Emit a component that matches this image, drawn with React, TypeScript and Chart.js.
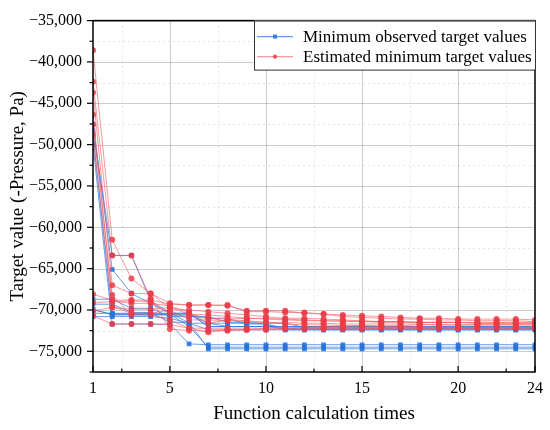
import React, { useEffect, useRef } from "react";
import { Chart, registerables } from "chart.js";
Chart.register(...registerables);

const steps = [1, 2, 3, 4, 5, 6, 7, 8, 9, 10, 11, 12, 13, 14, 15, 16, 17, 18, 19, 20, 21, 22, 23, 24];

// Minimum observed target values (blue)
const blue1 = [-47500, -65100, -68000, -69200, -70400, -70400, -72000, -72000, -72000, -72000, -72000, -72000, -72000, -72000, -72000, -72000, -72000, -72000, -72000, -72000, -72000, -72000, -72000, -72000];
const blue2 = [-48800, -70500, -70500, -70500, -70500, -72000, -74500, -74500, -74500, -74500, -74500, -74500, -74500, -74500, -74500, -74500, -74500, -74500, -74500, -74500, -74500, -74500, -74500, -74500];
const blue3 = [-50000, -71700, -71700, -71700, -71700, -74100, -74200, -74200, -74200, -74200, -74200, -74200, -74200, -74200, -74200, -74200, -74200, -74200, -74200, -74200, -74200, -74200, -74200, -74200];
const blue4 = [-68700, -68700, -69800, -69800, -70800, -70800, -70800, -71500, -71500, -71700, -72200, -72200, -72200, -72200, -72200, -72200, -72200, -72200, -72200, -72200, -72200, -72200, -72200, -72200];
const blue5 = [-69300, -69300, -70300, -70300, -71500, -71500, -74700, -74700, -74700, -74700, -74700, -74700, -74700, -74700, -74700, -74700, -74700, -74700, -74700, -74700, -74700, -74700, -74700, -74700];
const blue6 = [-70000, -70500, -70500, -70500, -70500, -70500, -71000, -71000, -71700, -71700, -72400, -72400, -72400, -72400, -72400, -72400, -72400, -72400, -72400, -72400, -72400, -72400, -72400, -72400];
const blue7 = [-70800, -70800, -70800, -70800, -71000, -71600, -71600, -72000, -72000, -72000, -72300, -72300, -72300, -72300, -72300, -72300, -72300, -72300, -72300, -72300, -72300, -72300, -72300, -72300];
const blue8 = [-69900, -70600, -70600, -70600, -70600, -70600, -71600, -71600, -71600, -71600, -71600, -72100, -72100, -72100, -72100, -72100, -72100, -72100, -72100, -72100, -72100, -72100, -72100, -72100];
const blue9 = [-48300, -63400, -63400, -68900, -70300, -71600, -72400, -72400, -72400, -72400, -72400, -72400, -72400, -72400, -72400, -72400, -72400, -72400, -72400, -72400, -72400, -72400, -72400, -72400];
const blue10 = [-70400, -70400, -70400, -70400, -70400, -70400, -72000, -72000, -72000, -72000, -72000, -72000, -72000, -72000, -72000, -72000, -72000, -72000, -72000, -72000, -72000, -72000, -72000, -72000];

// Estimated minimum target values (red)
const red1 = [-38600, -61500, -66200, -68000, -69200, -69400, -69400, -69400, -70200, -70200, -70300, -70300, -70500, -70800, -70900, -71000, -71100, -71100, -71200, -71200, -71300, -71300, -71300, -71400];
const red2 = [-42400, -63400, -63400, -68600, -72300, -72500, -72500, -72500, -72400, -72400, -72300, -72300, -72300, -72300, -72300, -72200, -72200, -72200, -72200, -72200, -72200, -72200, -72200, -72200];
const red3 = [-43700, -67000, -68000, -68000, -69800, -70000, -70200, -70400, -70600, -70800, -71000, -71000, -71100, -71200, -71300, -71400, -71400, -71500, -71500, -71500, -71600, -71600, -71600, -71600];
const red4 = [-46400, -68900, -69200, -69200, -69500, -70300, -71600, -71200, -71300, -71500, -71700, -71800, -71800, -71900, -71900, -72000, -72000, -72000, -72100, -72100, -72100, -72100, -72100, -72100];
const red5 = [-47600, -68200, -70600, -70600, -71200, -72200, -72700, -72400, -72400, -72200, -72200, -72100, -72000, -72000, -71900, -71900, -71900, -71800, -71800, -71800, -71800, -71800, -71800, -71800];
const red6 = [-48900, -69600, -70400, -70400, -70000, -71200, -71200, -71300, -71400, -71500, -71500, -71600, -71600, -71700, -71700, -71700, -71700, -71700, -71800, -71800, -71800, -71800, -71800, -71800];
const red7 = [-68100, -68800, -68800, -68800, -69300, -69400, -69400, -69500, -70100, -70100, -70100, -70400, -70500, -70600, -70700, -70800, -70900, -71000, -71000, -71100, -71100, -71100, -71100, -71200];
const red8 = [-69100, -69000, -68900, -69000, -70500, -70800, -71000, -71100, -71000, -71100, -71200, -71300, -71300, -71400, -71400, -71500, -71500, -71500, -71500, -71500, -71600, -71600, -71600, -71600];
const red9 = [-70700, -71700, -71700, -71700, -71800, -72200, -72200, -72200, -72200, -72200, -72200, -72200, -72200, -72200, -72200, -72200, -72200, -72200, -72200, -72200, -72200, -72200, -72200, -72200];
const red10 = [-70100, -69700, -69900, -69900, -69700, -70500, -70600, -70800, -71000, -71000, -71100, -71200, -71300, -71300, -71400, -71400, -71400, -71500, -71500, -71500, -71500, -71500, -71500, -71500];

const blueSeries = [blue1, blue2, blue3, blue4, blue5, blue6, blue7, blue8, blue9, blue10];
const redSeries = [red1, red2, red3, red4, red5, red6, red7, red8, red9, red10];

const legendLabels = ["Minimum observed target values", "Estimated minimum target values"];
const xTitle = "Function calculation times";
const yTitle = "Target value (-Pressure, Pa)";

const xMajorTicks = [1, 5, 10, 15, 20, 24];
const xMinorTicks = [2.5, 7.5, 12.5, 17.5, 22.5];
const yMajorTicks = [-35000, -40000, -45000, -50000, -55000, -60000, -65000, -70000, -75000];
const yMinorTicks = [-37500, -42500, -47500, -52500, -57500, -62500, -67500, -72500, -77500];

const SERIF = '"Liberation Serif", "Times New Roman", serif';
const BLUE_LINE = "rgba(55,125,225,0.75)";
const BLUE_PT = "rgba(40,115,220,0.9)";
const RED_LINE = "rgba(240,85,95,0.6)";
const RED_PT = "rgba(235,60,72,0.85)";

const fmt = (v: number) => (v < 0 ? "\u2212" : "") + Math.abs(v).toLocaleString("en-US");

const decor = {
  id: "decor",
  beforeDatasetsDraw(chart: any) {
    const { ctx, chartArea, scales } = chart;
    const { left, right, top, bottom } = chartArea;
    const x = scales.x, y = scales.y;
    ctx.save();
    ctx.lineWidth = 1;
    const hl = (v: number) => {
      const p = Math.round(y.getPixelForValue(v)) + 0.5;
      ctx.beginPath(); ctx.moveTo(left, p); ctx.lineTo(right, p); ctx.stroke();
    };
    const vl = (v: number) => {
      const p = Math.round(x.getPixelForValue(v)) + 0.5;
      ctx.beginPath(); ctx.moveTo(p, top); ctx.lineTo(p, bottom); ctx.stroke();
    };
    ctx.strokeStyle = "rgba(0,0,0,0.1)";
    ctx.setLineDash([2, 3]);
    yMinorTicks.forEach(hl);
    xMinorTicks.forEach(vl);
    ctx.setLineDash([]);
    ctx.strokeStyle = "rgba(0,0,0,0.2)";
    yMajorTicks.forEach(hl);
    xMajorTicks.filter((v) => v !== 1 && v !== 24).forEach(vl);
    ctx.restore();
  },
  afterDraw(chart: any) {
    const { ctx, chartArea, scales } = chart;
    const { left, right, top, bottom } = chartArea;
    const x = scales.x, y = scales.y;
    ctx.save();
    ctx.strokeStyle = "#000";
    ctx.lineWidth = 1.5;
    ctx.strokeRect(left, top, right - left, bottom - top);
    ctx.lineWidth = 1.2;
    yMajorTicks.forEach((v) => {
      const p = y.getPixelForValue(v);
      ctx.beginPath(); ctx.moveTo(left - 6, p); ctx.lineTo(left, p); ctx.stroke();
    });
    yMinorTicks.forEach((v) => {
      const p = y.getPixelForValue(v);
      ctx.beginPath(); ctx.moveTo(left - 3.5, p); ctx.lineTo(left, p); ctx.stroke();
    });
    xMajorTicks.forEach((v) => {
      const p = x.getPixelForValue(v);
      ctx.beginPath(); ctx.moveTo(p, bottom); ctx.lineTo(p, bottom - 6); ctx.stroke();
    });
    xMinorTicks.forEach((v) => {
      const p = x.getPixelForValue(v);
      ctx.beginPath(); ctx.moveTo(p, bottom); ctx.lineTo(p, bottom - 3.5); ctx.stroke();
    });

    // legend
    const lx = 254, ly = top, lw = right - 254, lh = 49;
    ctx.fillStyle = "#fff";
    ctx.fillRect(lx, ly, lw, lh);
    ctx.strokeStyle = "#333";
    ctx.lineWidth = 1;
    ctx.strokeRect(lx + 0.5, ly + 0.5, lw, lh);
    const rows = [
      { y: ly + 16, line: BLUE_LINE, pt: BLUE_PT, shape: "rect", text: legendLabels[0] },
      { y: ly + 36, line: RED_LINE, pt: RED_PT, shape: "circle", text: legendLabels[1] },
    ];
    ctx.font = `17px ${SERIF}`;
    ctx.textBaseline = "middle";
    rows.forEach((r) => {
      ctx.strokeStyle = r.line;
      ctx.lineWidth = 1.2;
      ctx.beginPath(); ctx.moveTo(257, r.y); ctx.lineTo(293, r.y); ctx.stroke();
      ctx.fillStyle = r.pt;
      if (r.shape === "rect") ctx.fillRect(273, r.y - 2, 4, 4);
      else { ctx.beginPath(); ctx.arc(275, r.y, 2.2, 0, Math.PI * 2); ctx.fill(); }
      ctx.fillStyle = "#000";
      ctx.fillText(r.text, 303, r.y + 1);
    });
    ctx.restore();
  },
};

export default function App() {
  const ref = useRef<HTMLCanvasElement>(null);
  useEffect(() => {
    if (!ref.current) return;
    const datasets: any[] = [];
    blueSeries.forEach((s) => {
      datasets.push({
        label: legendLabels[0],
        data: steps.map((st, j) => ({ x: st, y: s[j] })),
        borderColor: BLUE_LINE,
        borderWidth: 1,
        pointStyle: "rect",
        pointRadius: 3.3,
        pointBackgroundColor: BLUE_PT,
        pointBorderWidth: 0,
        order: 2,
      });
    });
    redSeries.forEach((s) => {
      datasets.push({
        label: legendLabels[1],
        data: steps.map((st, j) => ({ x: st, y: s[j] })),
        borderColor: RED_LINE,
        borderWidth: 1,
        pointStyle: "circle",
        pointRadius: 3,
        pointBackgroundColor: RED_PT,
        pointBorderWidth: 0,
        order: 1,
      });
    });
    const chart = new Chart(ref.current, {
      type: "line",
      data: { datasets },
      options: {
        animation: false,
        responsive: true,
        maintainAspectRatio: false,
        layout: { padding: { top: 14, right: 14, left: 0, bottom: 0 } },
        plugins: { legend: { display: false }, tooltip: { enabled: false } },
        scales: {
          x: {
            type: "linear",
            min: 1,
            max: 24,
            grid: { display: false, drawTicks: false },
            border: { display: false },
            afterBuildTicks: (scale: any) => {
              scale.ticks = xMajorTicks.map((v) => ({ value: v }));
            },
            afterFit: (scale: any) => { scale.height = 58; },
            ticks: {
              autoSkip: false,
              maxRotation: 0,
              padding: 7,
              color: "#000",
              font: { family: SERIF, size: 16 },
              callback: (v: any) => String(v),
            },
            title: {
              display: true,
              text: xTitle,
              color: "#000",
              font: { family: SERIF, size: 19 },
              padding: { top: 0, bottom: 5 },
            },
          },
          y: {
            type: "linear",
            min: -77500,
            max: -35000,
            grid: { display: false, drawTicks: false },
            border: { display: false },
            afterBuildTicks: (scale: any) => {
              scale.ticks = yMajorTicks.map((v) => ({ value: v }));
            },
            afterFit: (scale: any) => { scale.width = 93; },
            ticks: {
              autoSkip: false,
              padding: 11,
              color: "#000",
              font: { family: SERIF, size: 16 },
              callback: (v: any) => fmt(Number(v)),
            },
            title: {
              display: true,
              text: yTitle,
              color: "#000",
              font: { family: SERIF, size: 19 },
              padding: { top: 7, bottom: 0 },
            },
          },
        },
      },
      plugins: [decor],
    } as any);
    return () => chart.destroy();
  }, []);
  return (
    <div style={{ position: "fixed", left: 0, top: 0, width: 550, height: 430, background: "#fff" }}>
      <canvas ref={ref} />
    </div>
  );
}
